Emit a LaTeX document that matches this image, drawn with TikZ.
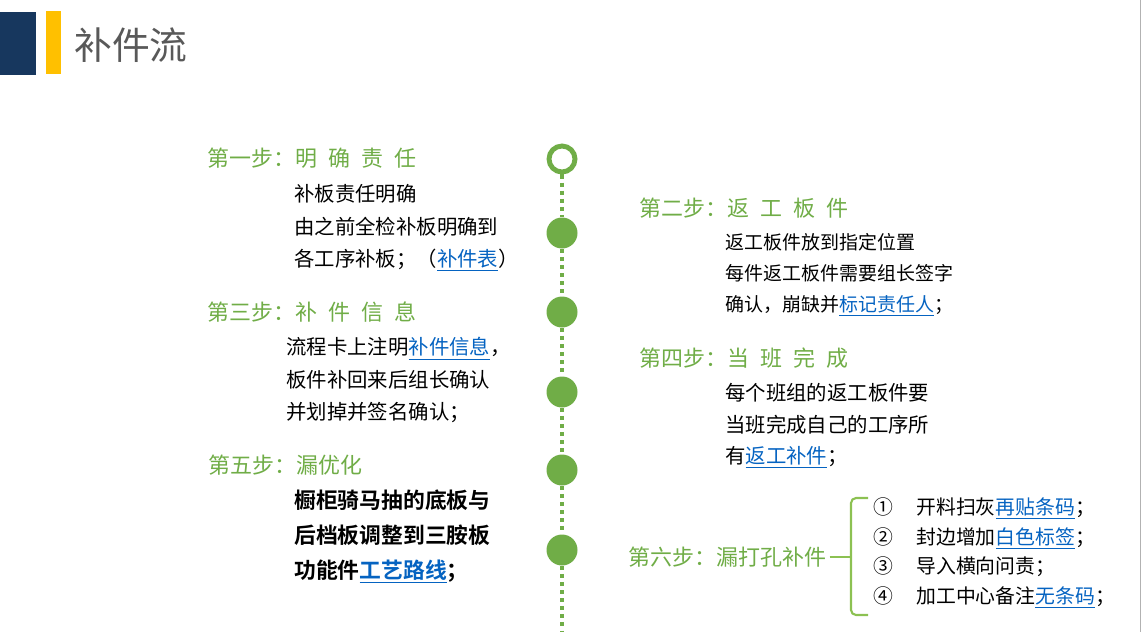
\documentclass[tikz,border=0pt]{standalone}
\usepackage{fontspec}
\setmainfont{Noto Sans CJK SC}[BoldFont={Noto Sans CJK SC Bold}]
\definecolor{stepgreen}{HTML}{70AD47}
\definecolor{bracegreen}{HTML}{8CC152}
\definecolor{navyblock}{HTML}{17375E}
\definecolor{goldblock}{HTML}{FFC000}
\definecolor{titlegray}{HTML}{595959}
\definecolor{linkblue}{HTML}{0563C1}
\newcommand{\linktext}[1]{{\color{linkblue}\underline{#1}}}
\newcommand{\sgap}{\hspace{0.5em}}
\begin{document}
\begin{tikzpicture}[x=0.02cm, y=-0.02cm,
    heading/.style={anchor=west, inner sep=0pt, text=stepgreen, font=\fontsize{12.5}{15}\selectfont},
    body/.style={anchor=west, inner sep=0pt, align=left, font=\fontsize{11.6}{18.3}\selectfont},
    dot/.style={circle, fill=stepgreen, minimum size=0.62cm, inner sep=0pt},
    ring/.style={circle, draw=stepgreen, line width=2.8pt, minimum size=0.52cm, inner sep=0pt},
    timeline/.style={stepgreen, line width=2.3pt, dash pattern=on 2.3pt off 2.3pt},
    brace/.style={bracegreen, line width=1.2pt}]
            \useasboundingbox (0,0) rectangle (1141,632);
            \draw[gray!60, line width=0.6pt] (1140.4,0) -- (1140.4,632);

            % Title
            \fill[navyblock] (0,12) rectangle (36,75);
            \fill[goldblock] (46,11) rectangle (61,74);
            \node[anchor=west, inner sep=0pt, text=titlegray, font=\fontsize{21.5}{24}\selectfont] (title) at (74,45) {补件流};

            % Timeline
            \node[ring] (c1) at (562,159) {};
            \node[dot] (c2) at (562,233) {};
            \node[dot] (c3) at (562,312) {};
            \node[dot] (c4) at (562,392) {};
            \node[dot] (c5) at (562,470) {};
            \node[dot] (c6) at (562,550) {};
            \coordinate (tend) at (562,632);
            \foreach \a/\b in {c1/c2, c2/c3, c3/c4, c4/c5, c5/c6, c6/tend}
            \draw[timeline] (\a) -- (\b);

            % Left steps
            \node[heading] (s1) at (207,158) {第一步：明\sgap 确\sgap 责\sgap 任};
            \node[body] (b1) at (294,228) {补板责任明确\\由之前全检补板明确到\\各工序补板；（\linktext{补件表}）};

            \node[heading] (s3) at (207,312) {第三步：补\sgap 件\sgap 信\sgap 息};
            \node[body] (b3) at (286,380) {流程卡上注明\linktext{补件信息}，\\板件补回来后组长确认\\并划掉并签名确认；};

            \node[heading] (s5) at (208,465) {第五步：漏优化};
            \node[body, font=\fontsize{12.4}{19.8}\selectfont\bfseries] (b5) at (294,537) {橱柜骑马抽的底板与\\后档板调整到三胺板\\功能件\linktext{工艺路线}；};

            % Right steps
            \node[heading] (s2) at (639,208) {第二步：返\sgap 工\sgap 板\sgap 件};
            \node[body, font=\fontsize{10.8}{17.8}\selectfont] (b2) at (725,275) {返工板件放到指定位置\\每件返工板件需要组长签字\\确认，崩缺并\linktext{标记责任人}；};

            \node[heading] (s4) at (639,358) {第四步：当\sgap 班\sgap 完\sgap 成};
            \node[body, font=\fontsize{11.6}{17.8}\selectfont] (b4) at (725,426) {每个班组的返工板件要\\当班完成自己的工序所\\有\linktext{返工补件}；};

            % Step six with brace
            \node[heading, outer sep=2pt] (s6) at (625,557) {第六步：漏打孔补件};
            \coordinate (bmid) at (851,557);
            \draw[brace] (s6) -- (bmid);
            \draw[brace] (868,498) -- (856,498) to[out=180,in=90] (851,503) -- (851,610) to[out=-90,in=180] (856,615) -- (868,615);
            \node[body, font=\fontsize{11.3}{16.9}\selectfont] (list6) at (873,553) {\makebox[0.86cm][l]{①}开料扫灰\linktext{再贴条码}；\\\makebox[0.86cm][l]{②}封边增加\linktext{白色标签}；\\\makebox[0.86cm][l]{③}导入横向问责；\\\makebox[0.86cm][l]{④}加工中心备注\linktext{无条码}；};

        \end{tikzpicture}
\end{document}
